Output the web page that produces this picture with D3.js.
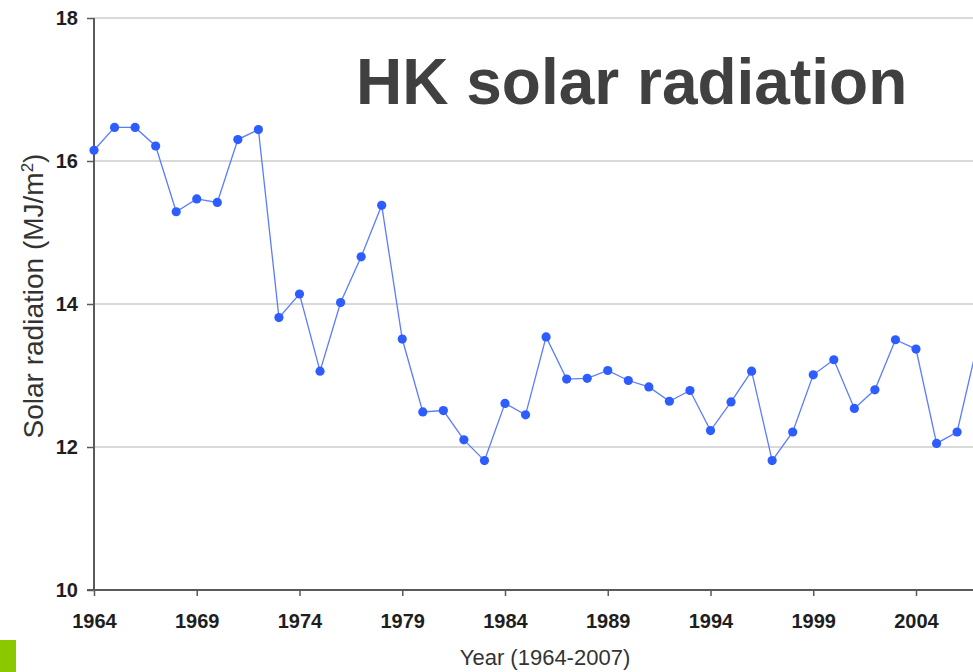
<!DOCTYPE html>
<html>
<head>
<meta charset="utf-8">
<script src="https://cdn.jsdelivr.net/npm/d3@7"></script>
<style>
  body { margin: 0; background: #fff; overflow: hidden; }
  svg { display: block; font-family: "Liberation Sans", Arial, sans-serif; }
</style>
</head>
<body>
<svg id="graphic" width="973" height="672"></svg>
<script>
// yearly mean daily solar radiation
const years = d3.range(1964, 2008);
const radiation = [
  16.15, 16.47, 16.47, 16.21, 15.29, 15.47, 15.42, 16.30, 16.44, 13.81,
  14.14, 13.06, 14.02, 14.66, 15.38, 13.51, 12.49, 12.51, 12.10, 11.81,
  12.61, 12.45, 13.54, 12.95, 12.96, 13.07, 12.93, 12.84, 12.64, 12.79,
  12.23, 12.63, 13.06, 11.81, 12.21, 13.01, 13.22, 12.54, 12.80, 13.50,
  13.37, 12.05, 12.21, 13.45
];
const yTicks = [10, 12, 14, 16, 18];
const xTicks = [1964, 1969, 1974, 1979, 1984, 1989, 1994, 1999, 2004];

let data = years.map((y, i) => ({ year: y, value: radiation[i] }));

let xScale = d3.scaleLinear()
  .domain([1964, 2004])
  .range([94, 916]);

let yScale = d3.scaleLinear()
  .domain([10, 18])
  .range([590, 18]);

let svg = d3.select('#graphic');

// grid
svg.append('g')
  .selectAll('line')
  .data(yTicks.filter(d => d > 10))
  .enter()
  .append('line')
  .attr('x1', 94)
  .attr('x2', 973)
  .attr('y1', d => yScale(d))
  .attr('y2', d => yScale(d))
  .attr('stroke', '#d9d9d9')
  .attr('stroke-width', 2);

let yAxis = d3.axisLeft(yScale)
  .tickValues(yTicks)
  .tickSize(7)
  .tickPadding(9);

let xAxis = d3.axisBottom(xScale)
  .tickValues(xTicks)
  .tickFormat(d3.format('d'))
  .tickSize(6)
  .tickPadding(18);

let gy = svg.append('g')
  .attr('transform', 'translate(94,0)')
  .call(yAxis);

let gx = svg.append('g')
  .attr('transform', 'translate(0,590)')
  .call(xAxis);

[gx, gy].forEach(g => {
  g.select('.domain').attr('stroke', '#5a5a5a').attr('stroke-width', 2);
  g.selectAll('.tick line').attr('stroke', '#5a5a5a').attr('stroke-width', 1.5);
  g.selectAll('.tick text')
    .attr('fill', '#1e1e1e')
    .style('font-size', '20px')
    .style('font-weight', 'bold');
});
// stretch x axis to the right edge
gx.select('.domain').attr('d', 'M87,0H973');
gy.select('.domain').attr('d', 'M0,18V590');

// line + markers
let line = d3.line()
  .x(d => xScale(d.year))
  .y(d => yScale(d.value));

svg.append('path')
  .datum(data)
  .attr('d', line)
  .attr('fill', 'none')
  .attr('stroke', '#5b7cff')
  .attr('stroke-width', 1.3);

svg.selectAll('.data_point')
  .data(data)
  .enter()
  .append('circle')
  .classed('data_point', true)
  .attr('cx', d => xScale(d.year))
  .attr('cy', d => yScale(d.value))
  .attr('r', 4.6)
  .attr('fill', '#2d5cff');

// labels
svg.append('text')
  .attr('x', 356)
  .attr('y', 104)
  .attr('fill', '#404040')
  .style('font-size', '64px')
  .style('font-weight', 'bold')
  .text('HK solar radiation');

let ylab = svg.append('text')
  .attr('transform', 'translate(43,296) rotate(-90)')
  .attr('text-anchor', 'middle')
  .attr('fill', '#333')
  .style('font-size', '28px');
ylab.append('tspan').text('Solar radiation (MJ/m');
ylab.append('tspan').attr('dy', -10).style('font-size', '17px').text('2');
ylab.append('tspan').attr('dy', 10).text(')');

svg.append('text')
  .attr('x', 545)
  .attr('y', 665)
  .attr('text-anchor', 'middle')
  .attr('fill', '#333')
  .style('font-size', '22px')
  .text('Year (1964-2007)');

// green block bottom-left
svg.append('rect')
  .attr('x', 0)
  .attr('y', 640)
  .attr('width', 16)
  .attr('height', 32)
  .attr('fill', '#8cc800');
</script>
</body>
</html>
